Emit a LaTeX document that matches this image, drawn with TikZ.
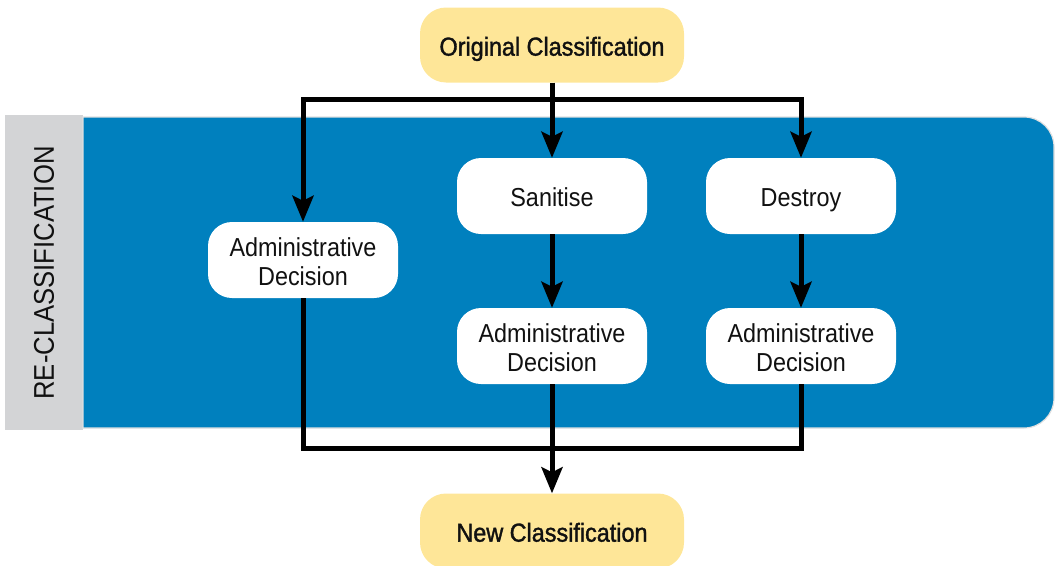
\documentclass[tikz,border=0pt]{standalone}
\usepackage{fontspec}
\setmainfont{Liberation Sans}[FakeStretch=0.9]
\newfontfamily\titlefont{Liberation Sans}[FakeStretch=0.9,FakeBold=1.4]
\usetikzlibrary{arrows.meta}
\definecolor{bandblue}{HTML}{0080BE}
\definecolor{bandgrey}{HTML}{D3D4D6}
\definecolor{softyellow}{HTML}{FEE698}
\definecolor{inkblack}{HTML}{111111}
% struts that keep every text block at the same optical centre
% (a two-line block sits on its last baseline, so it needs a taller one)
\newcommand\topstrut{\rule{0pt}{30pt}}
\newcommand\toptwostrut{\rule{0pt}{59pt}}
\newcommand\botstrut{\rule[-8.7pt]{0pt}{0pt}}
\begin{document}
\begin{tikzpicture}[x=1pt,y=-1pt,
  basebox/.style={rectangle, rounded corners=24pt, fill=white,
    minimum width=190pt, minimum height=76pt, align=center,
    text=inkblack, font=\fontsize{26}{29}\selectfont, inner sep=0pt},
  stepbox/.style={basebox,
    execute at begin node=\topstrut, execute at end node=\botstrut},
  twobox/.style={basebox,
    execute at begin node=\toptwostrut, execute at end node=\botstrut},
  endbox/.style={rectangle, rounded corners=26pt, fill=softyellow,
    minimum width=264pt, minimum height=75pt, align=center,
    text=inkblack, font=\titlefont\fontsize{26}{29}\selectfont, inner sep=0pt,
    execute at begin node=\topstrut, execute at end node=\botstrut},
  flow/.style={line width=5pt, draw=black, line join=miter},
  tip/.style={-{Stealth[length=26pt,width=21pt,inset=5pt]}}]
\useasboundingbox (0,0) rectangle (1056,565);

% side label band
\fill[bandgrey] (5,115) rectangle (83,430);
\node[rotate=90, text=inkblack, font=\fontsize{28.5}{30}\selectfont] (label) at (44,273) {RE-CLASSIFICATION};

% blue band with rounded right corners
\path[fill=bandblue, draw=black!12, line width=1.2pt]
  (83,117) -- (1024,117)
  .. controls (1040.6,117) and (1054,130.4) .. (1054,147)
  -- (1054,398)
  .. controls (1054,414.6) and (1040.6,428) .. (1024,428)
  -- (83,428) -- cycle;

% nodes
\node[endbox]  (orig) at (552,45)  {Original Classification};
\node[endbox]  (new)  at (552,531) {New Classification};
\node[stepbox] (san)  at (552,196) {Sanitise};
\node[stepbox] (des)  at (801,196) {Destroy};
\node[twobox]  (adl)  at (303,260) {Administrative\\Decision};
\node[twobox]  (adm)  at (552,346) {Administrative\\Decision};
\node[twobox]  (adr)  at (801,346) {Administrative\\Decision};

% junction points of the split and merge bars
\coordinate (tl) at (303,99);
\coordinate (tr) at (801,99);
\coordinate (bl) at (303,448);
\coordinate (br) at (801,448);

% connectors
\draw[flow, tip] (orig.south) -- (san.north);
\draw[flow, {Stealth[length=26pt,width=21pt,inset=5pt]}-{Stealth[length=26pt,width=21pt,inset=5pt]}]
  (des.north) -- (tr) -- (tl) -- (adl.north);
\draw[flow, tip] (san.south) -- (adm.north);
\draw[flow, tip] (des.south) -- (adr.north);
\draw[flow] (adl.south) -- (bl) -- (br) -- (adr.south);
\draw[flow, tip] (adm.south) -- (new.north);
\end{tikzpicture}
\end{document}
